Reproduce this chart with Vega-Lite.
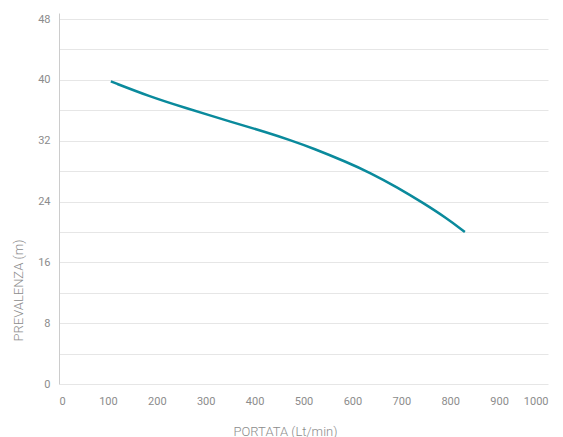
{
  "$schema": "https://vega.github.io/schema/vega-lite/v6.json",
  "width": 489,
  "height": 371,
  "autosize": "none",
  "padding": {"left": 59, "top": 13, "right": 15, "bottom": 53},
  "background": "white",
  "config": {"view": {"stroke": null}, "font": "Roboto"},
  "data": {"values": [
    {"portata": 106, "prevalenza": 39.8},
    {"portata": 186, "prevalenza": 37.8},
    {"portata": 254, "prevalenza": 36.4},
    {"portata": 356, "prevalenza": 34.4},
    {"portata": 425, "prevalenza": 33.1},
    {"portata": 472, "prevalenza": 32.1},
    {"portata": 520, "prevalenza": 31.0},
    {"portata": 588, "prevalenza": 29.2},
    {"portata": 636, "prevalenza": 27.8},
    {"portata": 691, "prevalenza": 25.9},
    {"portata": 745, "prevalenza": 23.8},
    {"portata": 793, "prevalenza": 21.8},
    {"portata": 830, "prevalenza": 20.0}
  ]},
  "mark": {"type": "line", "interpolate": "basis", "color": "#0a8a9c", "strokeWidth": 2.5},
  "encoding": {
    "x": {
      "field": "portata", "type": "quantitative",
      "scale": {"domain": [0, 1000], "nice": false},
      "axis": {
        "values": [0, 100, 200, 300, 400, 500, 600, 700, 800, 900, 1000],
        "format": "d",
        "grid": false, "domain": false, "ticks": false,
        "labelPadding": 11, "labelFontSize": 11, "labelColor": "#8c8c8c",
        "labelFont": "Roboto",
        "title": "PORTATA (Lt/min)", "titleFontSize": 13, "titleFontWeight": 300,
        "titleColor": "#8c8c8c", "titleX": 226, "titleY": 51, "titleBaseline": "alphabetic"
      }
    },
    "y": {
      "field": "prevalenza", "type": "quantitative",
      "scale": {"domain": [0, 48.8], "nice": false},
      "axis": {
        "values": [0, 4, 8, 12, 16, 20, 24, 28, 32, 36, 40, 44, 48],
        "labelExpr": "datum.value % 8 == 0 ? datum.label : ''",
        "grid": true, "gridColor": "#e6e6e6", "gridWidth": 1,
        "domain": true, "domainColor": "#cccccc",
        "ticks": false, "labelPadding": 9, "labelFontSize": 11, "labelColor": "#8c8c8c",
        "title": "PREVALENZA (m)", "titleFontSize": 13, "titleFontWeight": 300,
        "titleColor": "#8c8c8c", "titleX": -41, "titleY": 277, "titleAngle": -90,
        "titleAlign": "center", "titleBaseline": "middle"
      }
    }
  }
}
